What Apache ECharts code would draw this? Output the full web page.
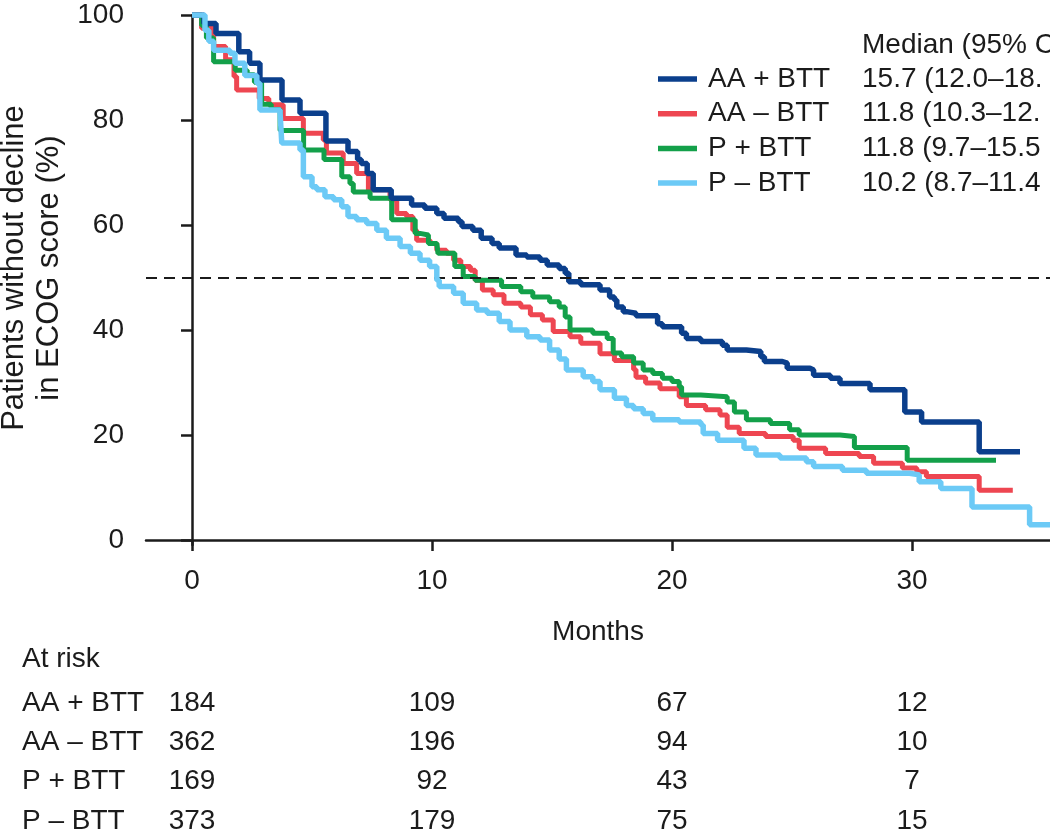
<!DOCTYPE html>
<html>
<head>
<meta charset="utf-8">
<script src="https://cdn.jsdelivr.net/npm/echarts@6/dist/echarts.min.js"></script>
<style>
html,body{margin:0;padding:0;background:#fff;}
#chart{width:1050px;height:837px;}
</style>
</head>
<body>
<div id="chart"></div>
<script>
// ---------- DATA ----------
const seriesNames = ['AA + BTT', 'AA – BTT', 'P + BTT', 'P – BTT'];
const medianHeader = 'Median (95% CI)';
const medianTexts = ['15.7 (12.0–18.', '11.8 (10.3–12.', '11.8 (9.7–15.5', '10.2 (8.7–11.4'];
const xTicks = [0, 10, 20, 30];
const yTicks = [0, 20, 40, 60, 80, 100];
const riskTimes = [0, 10, 20, 30];
const riskAAplus = [184, 109, 67, 12];
const riskAAminus = [362, 196, 94, 10];
const riskPplus = [169, 92, 43, 7];
const riskPminus = [373, 179, 75, 15];

// Kaplan–Meier steps: [month, % without decline] (value after each drop)
const kmAAplus = [[0,100],[0.5,98.4],[1.0,96.5],[1.95,93],[2.4,90.8],[2.83,87.6],[3.75,83.8],[4.5,81.3],[5.58,76],[6.5,74],[6.9,72.5],[7.05,71.7],[7.3,69.8],[7.55,66.7],[8.3,65.1],[9.15,63.8],[9.7,63.2],[10.2,62.2],[10.5,61.3],[11.1,60.6],[11.25,59.7],[11.7,59],[12.05,57.5],[12.5,56.5],[12.8,55.6],[13.5,54.3],[13.95,53.9],[14.5,53.3],[14.8,52.4],[15.3,51.7],[15.55,50.8],[15.7,49.2],[16.2,48.6],[17.0,47.6],[17.4,46.3],[17.6,45.7],[17.7,44.4],[17.97,43.5],[18.1,43.2],[18.5,42.7],[19.4,41.2],[19.6,40.6],[20.4,39.4],[20.6,38.4],[21.2,37.8],[22.1,37.1],[22.3,36.2],[23.1,35.9],[23.7,34.9],[23.85,34],[24.6,33.7],[24.8,32.7],[25.75,32.4],[25.9,31.4],[26.6,30.8],[27.0,29.8],[28.25,28.6],[29.7,24.4],[30.4,22.5],[32.8,16.8],[34.5,16.8]];
const kmAAminus = [[0,100],[0.4,97.5],[0.9,94],[1.4,91.5],[1.75,88.3],[1.86,85.7],[2.8,84.1],[3.2,82.9],[3.8,80.3],[4.64,77.5],[5.47,76.2],[5.6,73.7],[6.3,71.7],[6.86,69.8],[7.35,66.7],[8.25,64.8],[8.53,62.2],[8.94,61.6],[9.2,59],[9.36,57.1],[9.92,56.5],[10.2,55.2],[10.6,54.6],[10.9,53.3],[11.2,52.1],[11.6,51.4],[11.8,49.5],[12.1,47.6],[12.55,46.7],[13.0,45.1],[13.7,44.4],[14.1,42.9],[14.6,41.9],[15.05,39.7],[15.75,38.7],[16.2,37.5],[17.0,35.5],[17.6,34.2],[18.4,32.5],[18.5,31],[18.9,29.9],[19.5,28.8],[20.3,27.3],[20.6,25.6],[21.4,24.8],[22.0,23.8],[22.3,21.5],[22.8,20.3],[23.9,19.7],[25.05,19],[25.3,17.5],[26.4,16.5],[27.8,15.9],[28.4,14.6],[29.6,13.7],[30.2,13],[30.6,12.1],[32.8,9.5],[34.2,9.5]];
const kmPplus = [[0,100],[0.4,98],[0.6,95.6],[0.9,91.1],[1.8,89.5],[2.3,88.6],[2.6,87.2],[2.9,83],[3.3,82],[3.67,78],[4.65,74.3],[5.5,72.5],[6.24,69.2],[6.58,67.9],[6.72,66.3],[7.42,65.1],[8.32,61],[9.3,58.4],[9.5,58.1],[9.85,56.5],[10.2,56.2],[10.25,54.6],[10.95,52.1],[11.3,50.2],[11.8,49.5],[12.9,48.3],[13.7,47.3],[14.2,46.3],[14.9,45.4],[15.3,44.4],[15.55,42.5],[15.75,40],[16.7,39.4],[17.3,38.4],[17.55,35.6],[17.9,34.9],[18.4,33.7],[18.8,32.4],[19.2,31.7],[19.6,30.8],[20.0,30.2],[20.3,29.2],[20.4,27.6],[21.2,27.3],[22.3,26.3],[22.6,24.4],[23.1,22.9],[24.1,22.2],[24.9,21],[25.3,20],[27.0,19.7],[27.6,17.6],[29.8,15.2],[33.5,15.2]];
const kmPminus = [[0,100],[0.54,97.1],[0.7,95],[0.9,93.3],[1.58,92.7],[1.79,90.8],[2.2,88.5],[2.7,87],[2.83,81.9],[3.67,81.3],[3.74,75.6],[4.5,74.3],[4.64,69.2],[5.0,67.3],[5.2,66.7],[5.54,65.4],[5.9,64.8],[6.24,63.5],[6.5,61.6],[6.86,61],[7.28,60.3],[7.7,59],[8.1,57.5],[8.67,55.9],[9.1,54.6],[9.5,53.3],[9.9,52.1],[10.2,49.5],[10.3,48.3],[10.9,47],[11.3,45.1],[11.86,43.8],[12.3,43.2],[12.8,41.6],[13.25,40],[13.95,38.7],[14.5,38.1],[14.9,36.2],[15.3,34.5],[15.6,32.4],[16.3,31.1],[16.7,30.2],[17.0,28.6],[17.6,27],[18.1,25.6],[18.4,25],[18.8,24.1],[19.2,22.9],[20.3,22.5],[21.2,21.9],[21.3,20.3],[21.9,19],[23.0,17.5],[23.5,16.2],[24.5,15.6],[25.6,14.9],[25.9,14],[27.1,13.3],[28.1,12.7],[29.9,12.4],[30.3,11.1],[31.2,9.8],[32.5,6.3],[34.9,2.9],[35.75,2.9]];

// ---------- STYLE ----------
const colors = ['#0b3f8c', '#ee4651', '#13a04a', '#6ccaf6'];
const widths = [5.5, 5, 5, 5.5];
const FONT = '"Liberation Sans", Arial, Helvetica, sans-serif';
const TXT = '#1b1b1b';

const chart = echarts.init(document.getElementById('chart'), null, {renderer: 'canvas'});

function km(name, data, color, w, z) {
  return {
    name: name, type: 'line', step: 'end', data: data, symbol: 'none', z: z,
    lineStyle: {color: color, width: w}, itemStyle: {color: color}, silent: true
  };
}

const series = [
  km(seriesNames[1], kmAAminus, colors[1], widths[1], 2),
  km(seriesNames[2], kmPplus, colors[2], widths[2], 3),
  km(seriesNames[0], kmAAplus, colors[0], widths[0], 4),
  km(seriesNames[3], kmPminus, colors[3], widths[3], 5)
];
series[0].markLine = {
  silent: true, symbol: 'none', animation: false,
  label: {show: false},
  lineStyle: {color: '#1b1b1b', width: 2, type: [11, 7]},
  data: [{yAxis: 50}]
};

chart.setOption({
  animation: false,
  backgroundColor: '#fff',
  grid: {left: 146, right: 0, top: 15, bottom: 837 - 545, containLabel: false},
  xAxis: {
    type: 'value', min: -1.917, max: 35.75,
    splitLine: {show: false},
    axisLine: {lineStyle: {color: '#1b1b1b', width: 2.5}},
    axisTick: {show: true, customValues: xTicks, length: 11, lineStyle: {color: '#1b1b1b', width: 2.5}},
    axisLabel: {customValues: xTicks, color: TXT, fontSize: 28, fontFamily: FONT, margin: 22},
    name: 'Months', nameLocation: 'middle', nameGap: 73,
    nameTextStyle: {color: TXT, fontSize: 28, fontFamily: FONT}
  },
  yAxis: {
    type: 'value', min: -0.95, max: 100,
    splitLine: {show: false},
    axisLine: {lineStyle: {color: '#1b1b1b', width: 2.5}},
    axisTick: {show: true, customValues: yTicks, length: 11, lineStyle: {color: '#1b1b1b', width: 2.5}},
    axisLabel: {customValues: yTicks, color: TXT, fontSize: 28, fontFamily: FONT, margin: 22}
  },
  series: series
});

// ---------- TEXT / LEGEND / AT-RISK TABLE ----------
const g = [];
g.push({
  type: 'text', x: 32, y: 268, rotation: Math.PI / 2,
  style: {text: 'Patients without decline\nin ECOG score (%)', fill: TXT, fontSize: 31, fontFamily: FONT,
          align: 'center', verticalAlign: 'middle', lineHeight: 35}
});
// legend
g.push({type: 'text', x: 862, y: 45, style: {text: medianHeader, fill: TXT, fontSize: 28, fontFamily: FONT, align: 'left', verticalAlign: 'middle'}});
[0, 1, 2, 3].forEach(function (k, i) {
  const y = 79 + i * 34.7;
  g.push({type: 'line', shape: {x1: 658, y1: y, x2: 697, y2: y}, style: {stroke: colors[k], lineWidth: 5.5}});
  g.push({type: 'text', x: 708, y: y, style: {text: seriesNames[k], fill: TXT, fontSize: 28, fontFamily: FONT, align: 'left', verticalAlign: 'middle'}});
  g.push({type: 'text', x: 862, y: y, style: {text: medianTexts[k], fill: TXT, fontSize: 28, fontFamily: FONT, align: 'left', verticalAlign: 'middle'}});
});
// at risk
g.push({type: 'text', x: 22, y: 659, style: {text: 'At risk', fill: TXT, fontSize: 28, fontFamily: FONT, align: 'left', verticalAlign: 'middle'}});
const riskRows = [riskAAplus, riskAAminus, riskPplus, riskPminus];
riskRows.forEach(function (row, i) {
  const y = 703 + i * 39.3;
  g.push({type: 'text', x: 22, y: y, style: {text: seriesNames[i], fill: TXT, fontSize: 28, fontFamily: FONT, align: 'left', verticalAlign: 'middle'}});
  row.forEach(function (v, j) {
    const px = chart.convertToPixel({xAxisIndex: 0}, riskTimes[j]);
    g.push({type: 'text', x: px, y: y, style: {text: String(v), fill: TXT, fontSize: 28, fontFamily: FONT, align: 'center', verticalAlign: 'middle'}});
  });
});
chart.setOption({graphic: g});
</script>
</body>
</html>
